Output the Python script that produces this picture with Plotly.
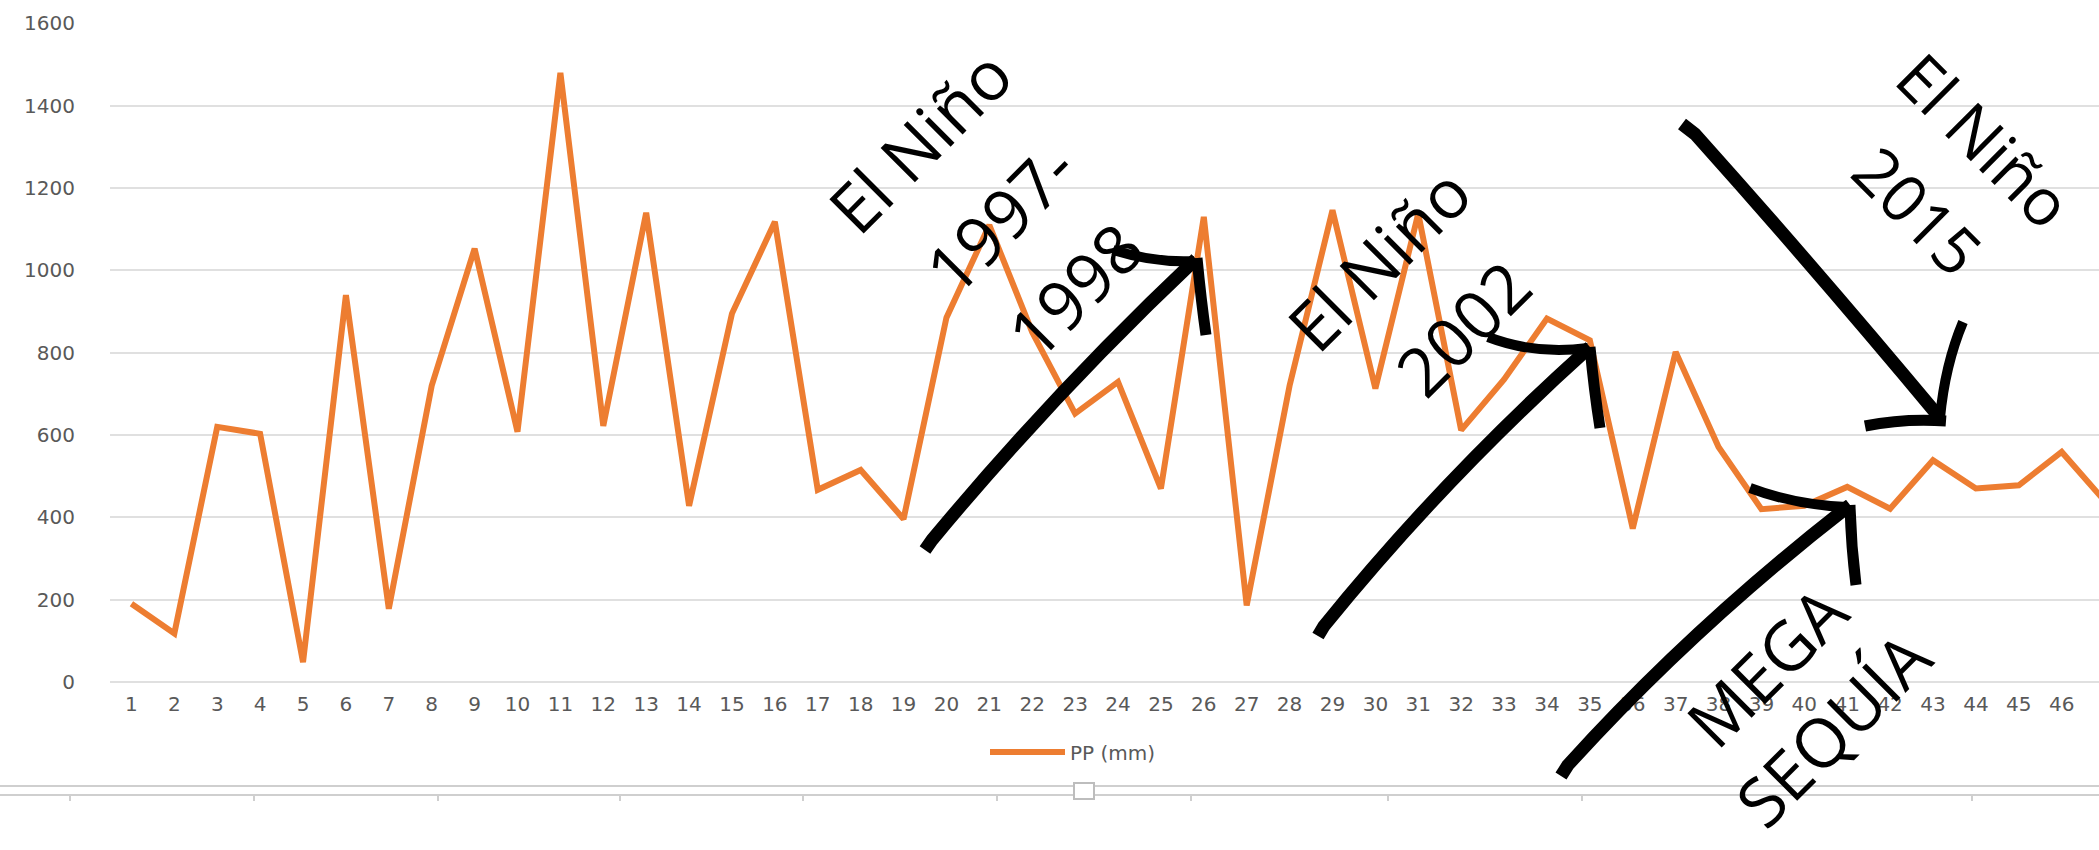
import plotly.graph_objects as go

# ---------------- data ----------------
periods = list(range(1, 48))
pp_mm = [190, 118, 620, 603, 48, 940, 178, 720, 1053, 608,
         1480, 622, 1140, 428, 895, 1118, 467, 515, 396, 885,
         1110, 850, 652, 729, 470, 1130, 186, 720, 1146, 713,
         1138, 612, 735, 883, 830, 373, 802, 571, 420, 428,
         474, 421, 539, 470, 478, 559, 440]
y_ticks = [0, 200, 400, 600, 800, 1000, 1200, 1400, 1600]
series_name = "PP (mm)"

# ---------------- geometry helpers ----------------
W, H = 2099, 850
ML, MR, MT, MB = 110, 0, 23, 168
PW = W - ML - MR
PH = H - MT - MB


def fx(x):
    return (x - ML) / PW


def fy(y):
    return (H - MB - y) / PH


def pth(cmds):
    out = []
    for c in cmds:
        if c[0] == "M":
            out.append("M %.5f,%.5f" % (fx(c[1]), fy(c[2])))
        elif c[0] == "L":
            out.append("L %.5f,%.5f" % (fx(c[1]), fy(c[2])))
        elif c[0] == "Q":
            out.append("Q %.5f,%.5f %.5f,%.5f" % (fx(c[1]), fy(c[2]), fx(c[3]), fy(c[4])))
    return " ".join(out)


fig = go.Figure()
fig.add_trace(go.Scatter(
    x=periods, y=pp_mm, mode="lines", name=series_name,
    line=dict(color="#ED7D31", width=6),
    showlegend=True,
))

GRID = "#e0e0e0"
TICKF = dict(family="DejaVu Sans", size=20, color="#595959")

fig.update_layout(
    width=W, height=H,
    margin=dict(l=ML, r=MR, t=MT, b=MB, pad=0),
    paper_bgcolor="white", plot_bgcolor="white",
    xaxis=dict(
        range=[0.5, 46.87], tickmode="array", tickvals=periods,
        ticktext=[str(p) for p in periods], showgrid=False, zeroline=False,
        showline=False, ticks="", tickfont=TICKF, ticklabelstandoff=8,
    ),
    yaxis=dict(
        range=[0, 1601], tickmode="array", tickvals=y_ticks,
        showgrid=True, gridcolor=GRID, gridwidth=2,
        zeroline=True, zerolinecolor=GRID, zerolinewidth=2,
        showline=False, ticks="", tickfont=TICKF, ticklabelstandoff=34,
    ),
    legend=dict(
        orientation="h", x=fx(985), xanchor="left", y=fy(752), yanchor="middle",
        font=dict(family="DejaVu Sans", size=20, color="#595959"),
        bgcolor="rgba(0,0,0,0)", itemwidth=75,
    ),
)

# ---------------- rotated hand-written labels ----------------
labels = [
    ("El Niño", 919, 140, -45, 68),
    ("1997-", 999, 218, -45, 68),
    ("1998", 1074, 289, -45, 68),
    ("El Niño", 1378, 258, -45, 68),
    ("2002", 1462, 327, -45, 68),
    ("MEGA", 1765, 666, -45, 68),
    ("SEQUÍA", 1832, 728, -45, 68),
    ("El Niño", 1985, 140, 45, 65),
    ("2015", 1918, 210, 45, 65),
]
for t, x, y, a, s in labels:
    fig.add_annotation(text=t, x=fx(x), y=fy(y), xref="paper", yref="paper",
                       showarrow=False, textangle=a,
                       font=dict(family="Open Sans", size=s, color="black"),
                       xanchor="center", yanchor="middle")

# ---------------- hand-drawn arrows ----------------
strokes = [
    # arrow 1 (1997-1998)
    ([("M", 925, 550), ("L", 932, 540), ("Q", 1054, 393, 1196, 259)], 13),
    ([("M", 1113, 250), ("Q", 1155, 263, 1194, 261)], 10),
    ([("M", 1197, 258), ("Q", 1201, 300, 1206, 335)], 11),
    # arrow 2 (2002)
    ([("M", 1318, 636), ("L", 1324, 626), ("Q", 1443, 479, 1590, 347)], 13),
    ([("M", 1488, 337), ("Q", 1535, 355, 1588, 348)], 10),
    ([("M", 1590, 347), ("Q", 1594, 390, 1600, 428)], 11),
    # arrow 3 (mega sequía)
    ([("M", 1561, 776), ("L", 1568, 765), ("Q", 1694, 626, 1850, 505)], 13),
    ([("M", 1750, 488), ("Q", 1795, 505, 1847, 507)], 10),
    ([("M", 1850, 505), ("Q", 1851, 545, 1856, 585)], 11),
    # arrow 4 (2015)
    ([("M", 1682, 124), ("L", 1695, 134), ("Q", 1815, 268, 1940, 418)], 13),
    ([("M", 1963, 322), ("Q", 1945, 365, 1940, 418)], 10),
    ([("M", 1865, 426), ("Q", 1905, 418, 1946, 421)], 11),
]
for cmds, w in strokes:
    fig.add_shape(type="path", path=pth(cmds), xref="paper", yref="paper",
                  line=dict(color="black", width=w), layer="above")

# ---------------- frame lines at the bottom (screenshot artefact) ----------------
FR = "#cfcfcf"
for yy in (786, 795):
    fig.add_shape(type="line", xref="paper", yref="paper",
                  x0=fx(0), x1=fx(W), y0=fy(yy), y1=fy(yy),
                  line=dict(color=FR, width=2), layer="below")
for xx in (70, 254, 438, 620, 803, 997, 1191, 1388, 1582, 1776, 1972):
    fig.add_shape(type="line", xref="paper", yref="paper",
                  x0=fx(xx), x1=fx(xx), y0=fy(795), y1=fy(801),
                  line=dict(color=FR, width=2), layer="below")
fig.add_shape(type="rect", xref="paper", yref="paper",
              x0=fx(1074), x1=fx(1094), y0=fy(783), y1=fy(799),
              line=dict(color="#bdbdbd", width=2), fillcolor="white", layer="above")

fig.write_html("out.html", include_plotlyjs=True,
               config={"displayModeBar": False},
               post_script="document.body.style.margin='0';document.body.style.overflow='hidden';")
